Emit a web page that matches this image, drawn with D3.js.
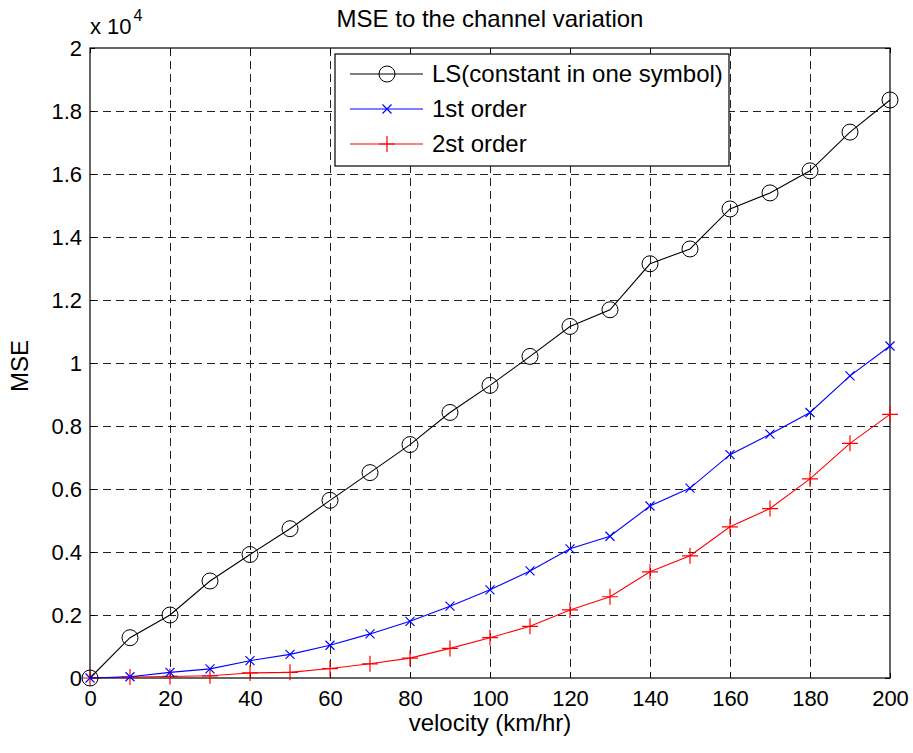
<!DOCTYPE html>
<html>
<head>
<meta charset="utf-8">
<script src="https://cdn.jsdelivr.net/npm/d3@7"></script>
<style>
  body { margin: 0; background: #fff; }
  text { font-family: "Liberation Sans", Arial, sans-serif; fill: #000; }
</style>
</head>
<body>
<div id="chart"></div>
<script>
var title = "MSE to the channel variation";

// data
var velocity = [0, 10, 20, 30, 40, 50, 60, 70, 80, 90, 100, 110, 120, 130, 140, 150, 160, 170, 180, 190, 200];
var lsMSE = [0, 1280, 2000, 3080, 3920, 4740, 5640, 6520, 7410, 8430, 9290, 10210, 11160, 11690, 13150, 13620, 14890, 15400, 16100, 17330, 18350];
var firstOrderMSE = [0, 40, 180, 290, 550, 750, 1040, 1400, 1800, 2280, 2800, 3400, 4100, 4500, 5460, 6030, 7090, 7740, 8430, 9590, 10540];
var secondOrderMSE = [0, 30, 50, 70, 160, 180, 300, 450, 630, 940, 1280, 1640, 2160, 2580, 3370, 3880, 4800, 5380, 6320, 7450, 8370];
var seriesNames = ["LS(constant in one symbol)", "1st order", "2st order"];
var xTicks = [0, 20, 40, 60, 80, 100, 120, 140, 160, 180, 200];
var yTicks = [0, 2000, 4000, 6000, 8000, 10000, 12000, 14000, 16000, 18000, 20000];
var yTickLabels = ["0", "0.2", "0.4", "0.6", "0.8", "1", "1.2", "1.4", "1.6", "1.8", "2"];

//set the dimensions and margins of the graph
var margin = {top: 48, right: 23, bottom: 75, left: 90},
    width = 913 - margin.left - margin.right,
    height = 753 - margin.top - margin.bottom;

var svg = d3.select("#chart")
    .append("svg")
        .attr("width", 913)
        .attr("height", 753)
    .append("g")
        .attr("transform", "translate(" + margin.left + "," + margin.top + ")");

var x = d3.scaleLinear().domain([0, 200]).range([0, width]);
var y = d3.scaleLinear().domain([0, 20000]).range([height, 0]);

// grid
var grid = svg.append("g").attr("class", "grid");
grid.selectAll(".vgrid")
    .data(xTicks.slice(1, -1))
    .join("line")
        .attr("x1", d => x(d)).attr("x2", d => x(d))
        .attr("y1", 0).attr("y2", height);
grid.selectAll(".hgrid")
    .data(yTicks.slice(1, -1))
    .join("line")
        .attr("y1", d => y(d)).attr("y2", d => y(d))
        .attr("x1", 0).attr("x2", width);
grid.selectAll("line")
    .attr("stroke", "#222")
    .attr("stroke-width", 1)
    .attr("stroke-dasharray", "8,5")
    .attr("shape-rendering", "crispEdges");

// axes with inward ticks on all sides
var fmtY = function(d) { return yTickLabels[yTicks.indexOf(d)]; };

svg.append("g")
    .attr("transform", "translate(0," + height + ")")
    .call(d3.axisBottom(x).tickValues(xTicks).tickSizeInner(-5).tickSizeOuter(0).tickPadding(12))
    .call(g => g.select(".domain").remove())
    .selectAll("text").style("font-size", "22px");

svg.append("g")
    .call(d3.axisTop(x).tickValues(xTicks).tickSizeInner(-5).tickSizeOuter(0).tickFormat(""))
    .call(g => g.select(".domain").remove());

svg.append("g")
    .call(d3.axisLeft(y).tickValues(yTicks).tickFormat(fmtY).tickSizeInner(-5).tickSizeOuter(0).tickPadding(8))
    .call(g => g.select(".domain").remove())
    .selectAll("text").style("font-size", "22px");

svg.append("g")
    .attr("transform", "translate(" + width + ",0)")
    .call(d3.axisRight(y).tickValues(yTicks).tickSizeInner(-5).tickSizeOuter(0).tickFormat(""))
    .call(g => g.select(".domain").remove());

svg.selectAll(".tick line").attr("stroke", "#000");
svg.selectAll(".tick text").attr("fill", "#000").style("font-family", "'Liberation Sans', Arial, sans-serif");

svg.append("rect")
    .attr("width", width)
    .attr("height", height)
    .attr("fill", "none")
    .attr("stroke", "#000")
    .attr("stroke-width", 1.2);

// series
var series = [
    {name: seriesNames[0], values: lsMSE, color: "#000", marker: "circle"},
    {name: seriesNames[1], values: firstOrderMSE, color: "#0000ff", marker: "x"},
    {name: seriesNames[2], values: secondOrderMSE, color: "#ff0000", marker: "plus"}
];

var line = d3.line()
    .x(d => x(d[0]))
    .y(d => y(d[1]));

function drawMarker(g, type, color) {
    if (type === "circle") {
        g.append("circle").attr("r", 8).attr("fill", "none").attr("stroke", color).attr("stroke-width", 1);
    } else if (type === "x") {
        g.append("path").attr("d", "M-4.5,-4.5L4.5,4.5M-4.5,4.5L4.5,-4.5").attr("stroke", color).attr("stroke-width", 1.2);
    } else {
        g.append("path").attr("d", "M-8,0L8,0M0,-8L0,8").attr("stroke", color).attr("stroke-width", 1.2);
    }
}

// draw from the bottom up so that the LS circles sit on top at 0
series.slice().reverse().forEach(function(s) {
    var pts = velocity.map((v, i) => [v, s.values[i]]);
    svg.append("path")
        .datum(pts)
        .attr("d", line)
        .attr("fill", "none")
        .attr("stroke", s.color)
        .attr("stroke-width", 1.1);
    svg.selectAll(null)
        .data(pts)
        .join("g")
            .attr("transform", d => "translate(" + x(d[0]) + "," + y(d[1]) + ")")
            .each(function() { drawMarker(d3.select(this), s.marker, s.color); });
});

// legend
var legend = svg.append("g").attr("transform", "translate(" + (335 - margin.left) + "," + (54 - margin.top) + ")");
legend.append("rect")
    .attr("width", 394)
    .attr("height", 112)
    .attr("fill", "#fff")
    .attr("stroke", "#000")
    .attr("stroke-width", 1.2);
series.forEach(function(s, i) {
    var row = legend.append("g").attr("transform", "translate(0," + (20 + i * 35) + ")");
    row.append("line").attr("x1", 15).attr("x2", 88).attr("stroke", s.color).attr("stroke-width", 1.1);
    var m = row.append("g").attr("transform", "translate(52,0)");
    drawMarker(m, s.marker, s.color);
    row.append("text")
        .attr("x", 97)
        .attr("dy", "0.35em")
        .style("font-size", "24px")
        .text(s.name);
});

// title and labels
svg.append("text")
    .attr("x", width / 2)
    .attr("y", 27 - margin.top)
    .attr("text-anchor", "middle")
    .style("font-size", "24px")
    .text(title);

svg.append("text")
    .attr("x", width / 2)
    .attr("y", 731 - margin.top)
    .attr("text-anchor", "middle")
    .style("font-size", "24px")
    .text("velocity (km/hr)");

svg.append("text")
    .attr("transform", "translate(" + (28 - margin.left) + "," + (366 - margin.top) + ") rotate(-90)")
    .attr("text-anchor", "middle")
    .style("font-size", "24px")
    .text("MSE");

// exponent label
var expo = svg.append("text")
    .attr("x", 0)
    .attr("y", 34 - margin.top)
    .style("font-size", "22px");
expo.append("tspan").text("x 10");
expo.append("tspan").attr("dx", 2).attr("dy", -13).style("font-size", "16px").text("4");
</script>
</body>
</html>
